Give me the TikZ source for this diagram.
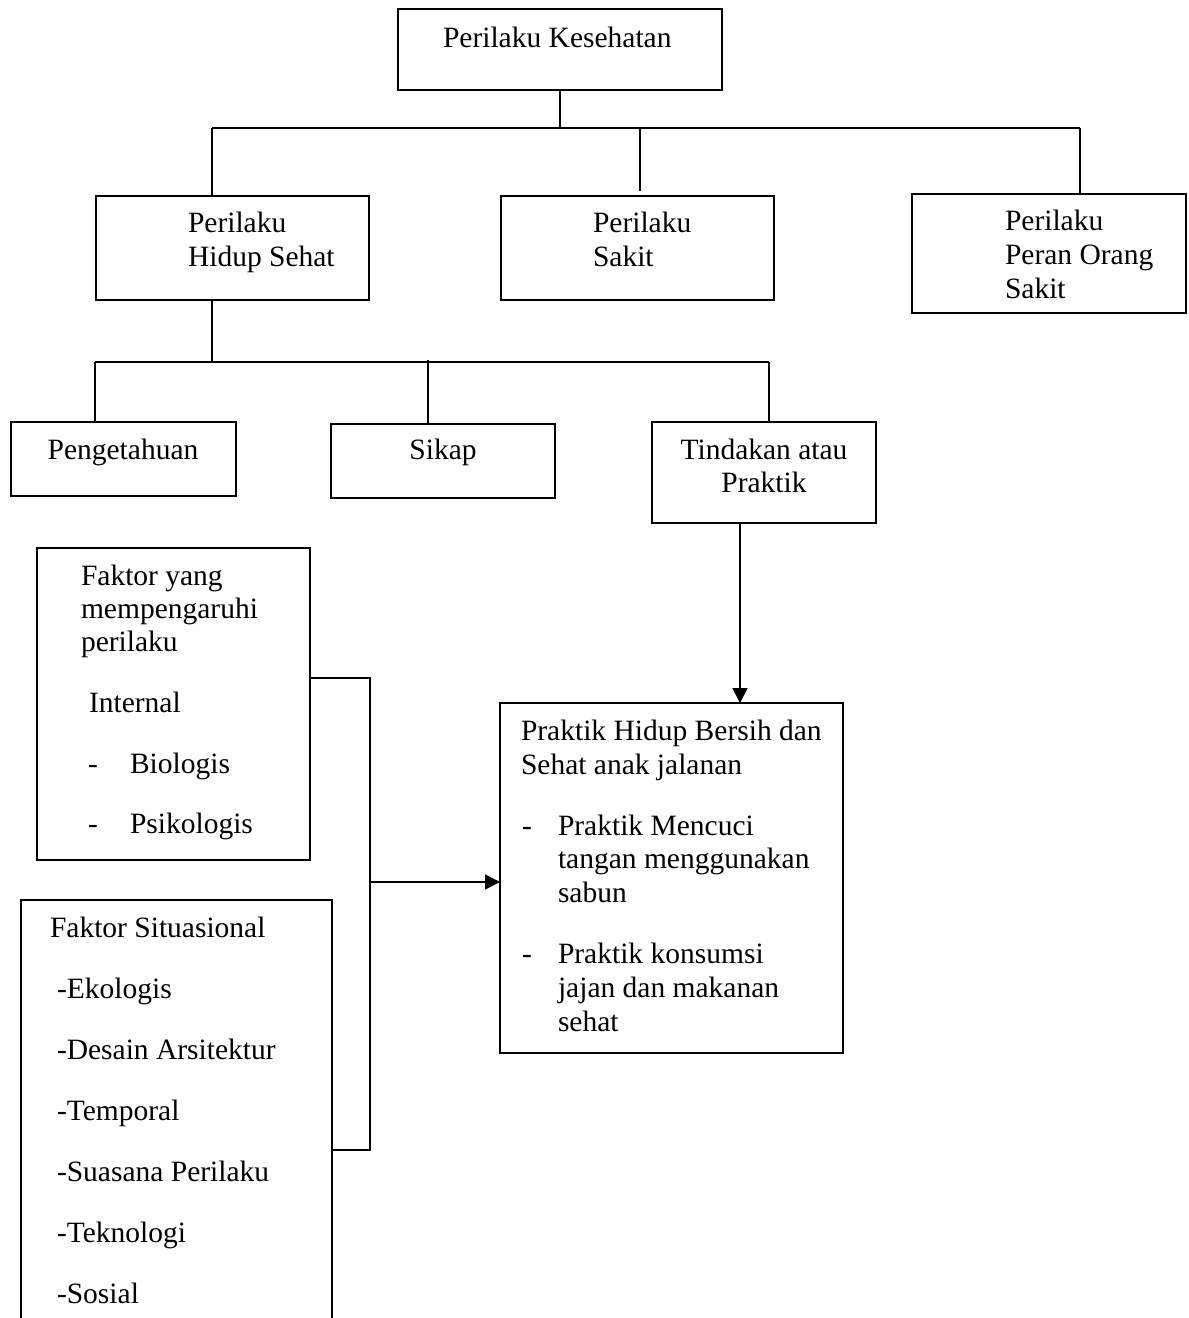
\documentclass[tikz,border=0pt]{standalone}
\usepackage{fontspec}
\setmainfont{Liberation Serif}
\usetikzlibrary{arrows.meta}
\tikzset{
  box/.style={draw, line width=0.9pt, rectangle, inner sep=0pt, outer sep=0pt},
  txt/.style={inner sep=0pt, outer sep=0pt, anchor=base west, font=\fontsize{14.75pt}{17pt}\selectfont},
  ctxt/.style={txt, anchor=base},
  conn/.style={line width=0.8pt},
  arr/.style={conn, -{Triangle[width=7.5pt,length=7.5pt]}}
}
\newcommand{\mybox}[5]{\node[box, minimum width={(#4-#2)*0.5pt}, minimum height={(#5-#3)*0.5pt}] (#1) at ({(#2+#4)/2},{(#3+#5)/2}) {};}
\begin{document}
\begin{tikzpicture}[x=0.5pt,y=-0.5pt]
\clip (0,0) rectangle (1189,1318);
\fill[white] (0,0) rectangle (1189,1318);
% boxes
\mybox{top}{398}{9}{722}{90}
\mybox{hidup}{96}{196}{369}{300}
\mybox{sakit}{501}{196}{774}{300}
\mybox{peran}{912}{194}{1186}{313}
\mybox{peng}{11}{422}{236}{496}
\mybox{sikap}{331}{424}{555}{498}
\mybox{tind}{652}{422}{876}{523}
\mybox{faktor}{37}{548}{310}{860}
\mybox{situ}{21}{900}{332}{1340}
\mybox{prak}{500}{703}{843}{1053}
% texts
\node[txt] (t0) at (443,47) {Perilaku Kesehatan};
\node[txt] (t1a) at (188,232) {Perilaku};
\node[txt] (t1b) at (188,266) {Hidup Sehat};
\node[txt] (t2a) at (593,232) {Perilaku};
\node[txt] (t2b) at (593,266) {Sakit};
\node[txt] (t3a) at (1005,230) {Perilaku};
\node[txt] (t3b) at (1005,264) {Peran Orang};
\node[txt] (t3c) at (1005,298) {Sakit};
\node[ctxt] (t4) at (123,459) {Pengetahuan};
\node[ctxt] (t5) at (443,459) {Sikap};
\node[ctxt] (t6a) at (764,459) {Tindakan atau};
\node[ctxt] (t6b) at (764,492) {Praktik};
\node[txt] (f1) at (81,585) {Faktor yang};
\node[txt] (f2) at (81,618) {mempengaruhi};
\node[txt] (f3) at (81,651) {perilaku};
\node[txt] (f4) at (89,712) {Internal};
\node[txt] (f5d) at (88,773) {-};
\node[txt] (f5) at (130,773) {Biologis};
\node[txt] (f6d) at (88,833) {-};
\node[txt] (f6) at (130,833) {Psikologis};
\node[txt] (p1) at (521,740) {Praktik Hidup Bersih dan};
\node[txt] (p2) at (521,774) {Sehat anak jalanan};
\node[txt] (p3d) at (522,835) {-};
\node[txt] (p3) at (558,835) {Praktik Mencuci};
\node[txt] (p4) at (558,868) {tangan menggunakan};
\node[txt] (p5) at (558,902) {sabun};
\node[txt] (p6d) at (522,963) {-};
\node[txt] (p6) at (558,963) {Praktik konsumsi};
\node[txt] (p7) at (558,997) {jajan dan makanan};
\node[txt] (p8) at (558,1031) {sehat};
\node[txt] (s0) at (50,937) {Faktor Situasional};
\node[txt] (s1) at (57,998) {-Ekologis};
\node[txt] (s2) at (57,1059) {-Desain Arsitektur};
\node[txt] (s3) at (57,1120) {-Temporal};
\node[txt] (s4) at (57,1181) {-Suasana Perilaku};
\node[txt] (s5) at (57,1242) {-Teknologi};
\node[txt] (s6) at (57,1303) {-Sosial};
% connector coordinates
\coordinate (bC) at (560,128);
\coordinate (bL) at (212,128);
\coordinate (bM) at (640,128);
\coordinate (bMe) at (640,191);
\coordinate (bR) at (1080,128);
\coordinate (cC) at (212,362);
\coordinate (cL) at (95,362);
\coordinate (cM) at (428,360);
\coordinate (cR) at (769,362);
\coordinate (dA) at (740,0);
\coordinate (kT) at (370,678);
\coordinate (kB) at (370,1150);
\coordinate (kM) at (370,882);
% level 1
\draw[conn] (top.south) -- (bC);
\draw[conn] (bL) -- (bR);
\draw[conn] (bL) -- (bL |- hidup.north);
\draw[conn] (bM) -- (bMe);
\draw[conn] (bR) -- (bR |- peran.north);
% level 2
\draw[conn] (hidup.south -| cC) -- (cC);
\draw[conn] (cL) -- (cR);
\draw[conn] (cL) -- (cL |- peng.north);
\draw[conn] (cM) -- (cM |- sikap.north);
\draw[conn] (cR) -- (cR |- tind.north);
% arrow down
\draw[arr] (tind.south -| dA) -- (prak.north -| dA);
% bracket
\draw[conn] (faktor.east |- kT) -- (kT) -- (kB) -- (situ.east |- kB);
\draw[arr] (kM) -- (prak.west |- kM);
\end{tikzpicture}
\end{document}
